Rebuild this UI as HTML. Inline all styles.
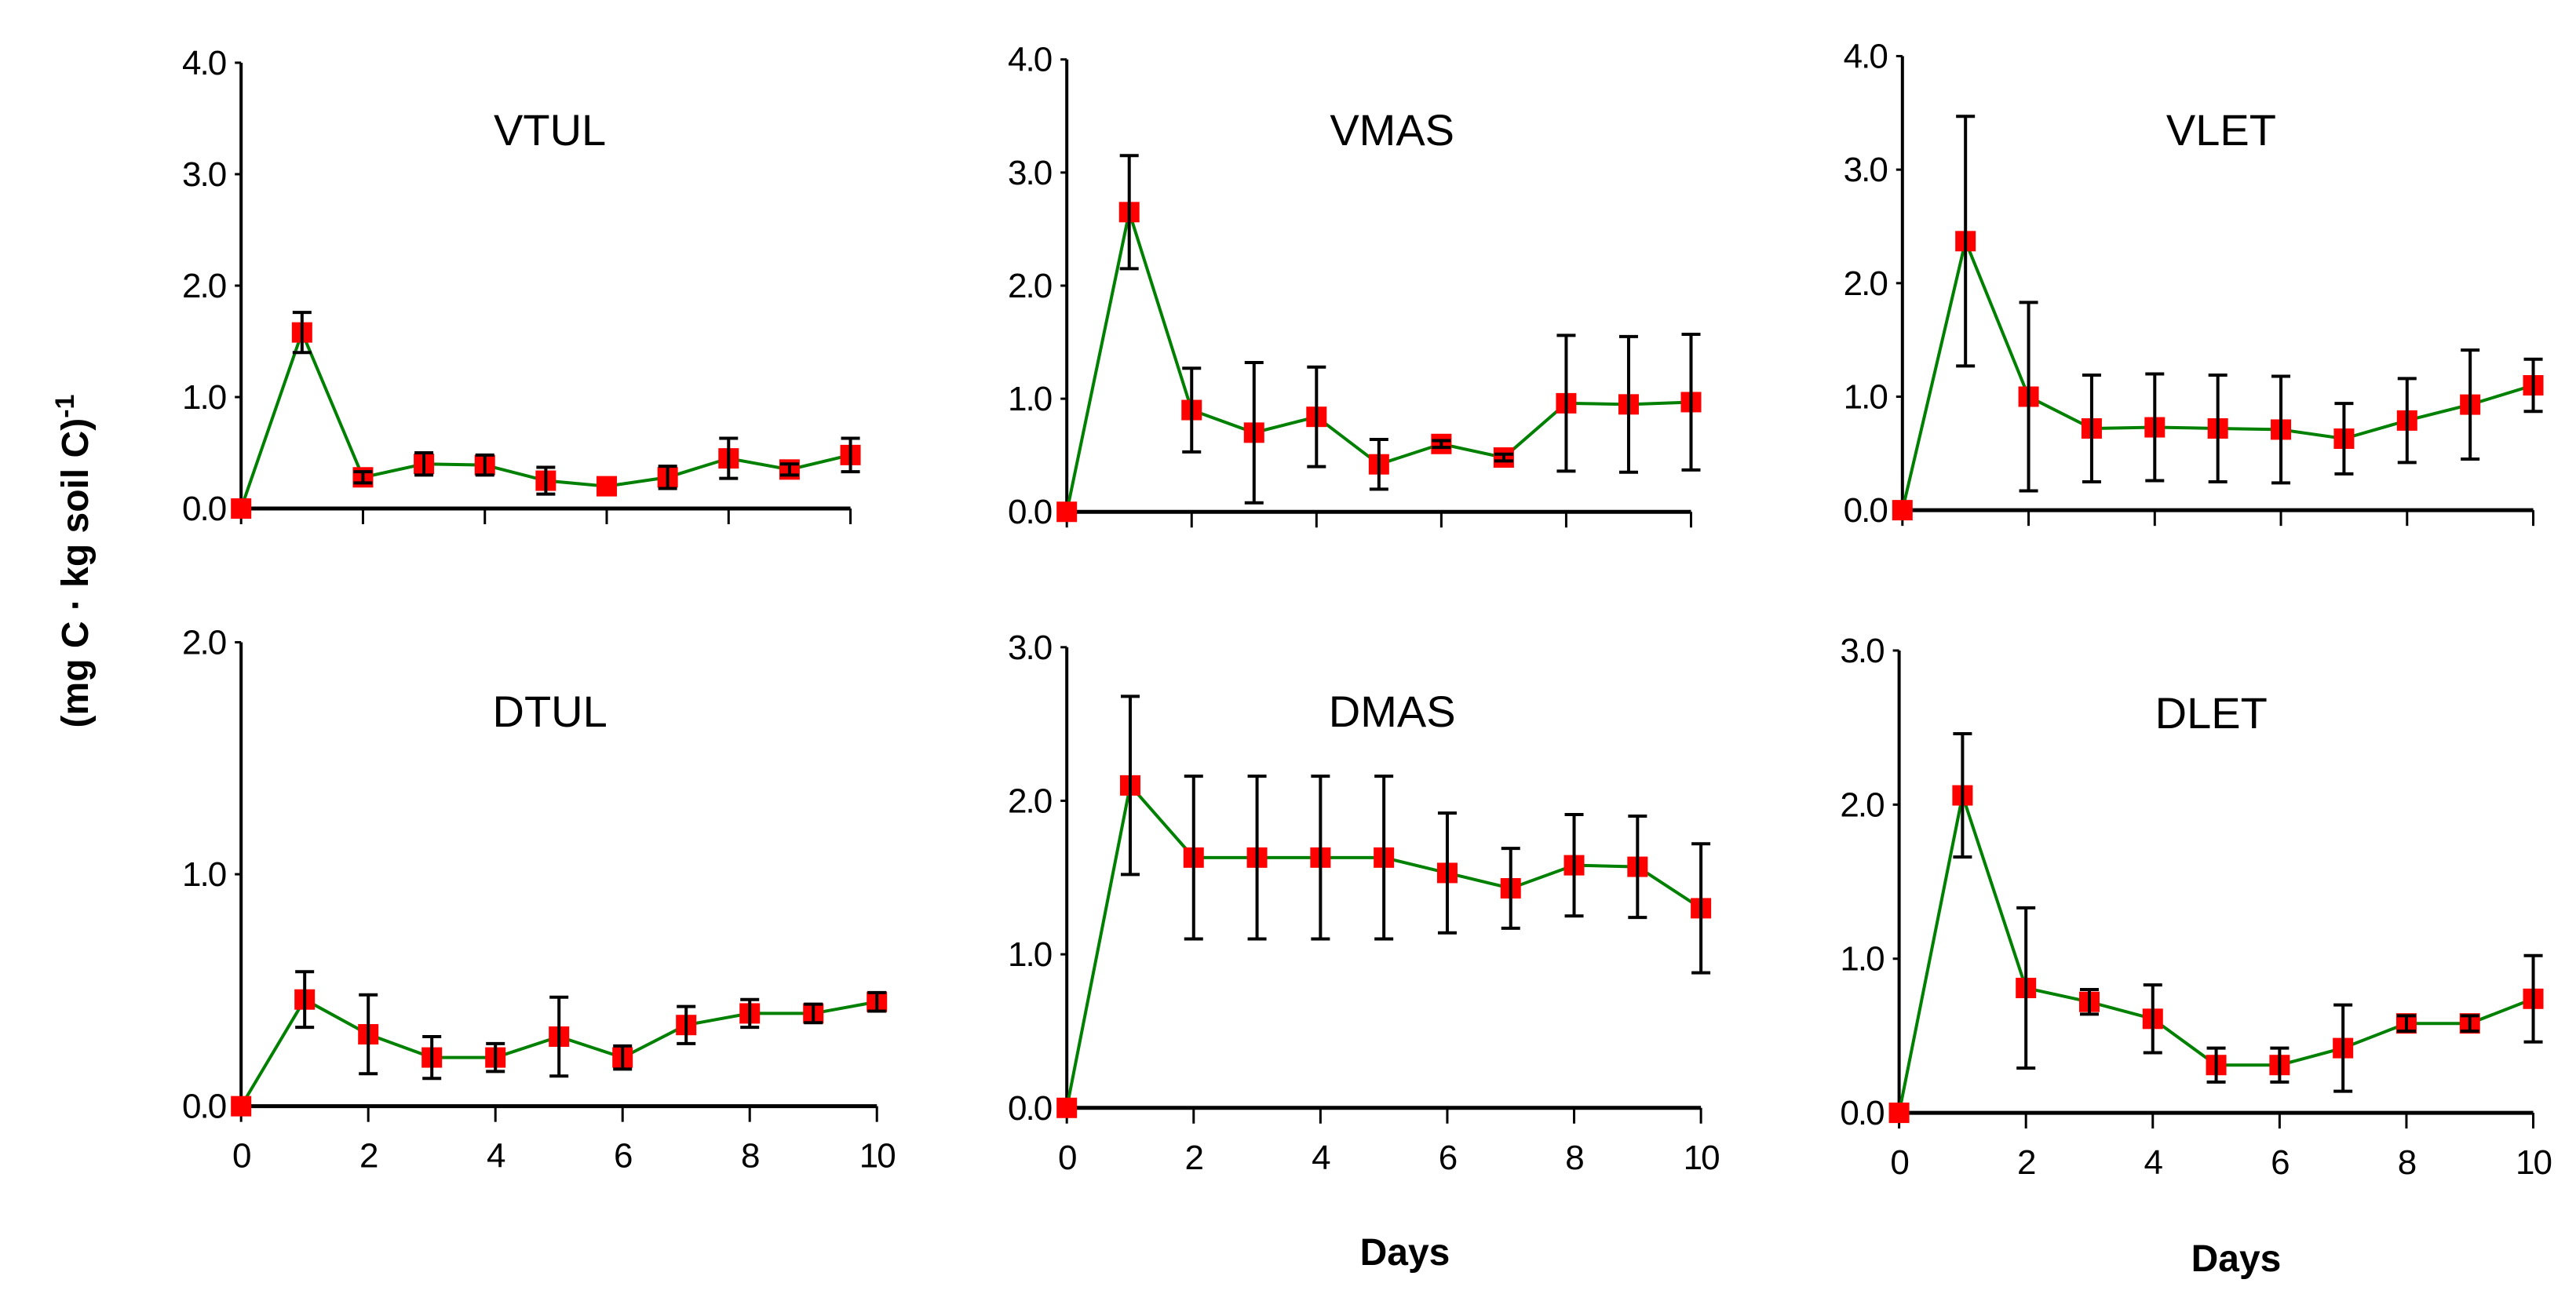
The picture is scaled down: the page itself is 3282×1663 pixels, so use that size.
<!DOCTYPE html>
<html><head><meta charset="utf-8"><style>
html,body{margin:0;padding:0;background:#fff;}
svg{display:block;font-family:"Liberation Sans",Arial,sans-serif;}
</style></head><body>
<svg id="chart" width="3282" height="1663" viewBox="0 0 3282 1663" xmlns="http://www.w3.org/2000/svg">
<text transform="translate(112,715) rotate(-90)" text-anchor="middle" font-size="48" font-weight="bold">(mg C · kg soil C)<tspan dy="-18" font-size="34">-1</tspan></text>
<text x="1790" y="1612" text-anchor="middle" font-size="48" font-weight="bold">Days</text>
<text x="2849" y="1620" text-anchor="middle" font-size="48" font-weight="bold">Days</text>
</svg>
<script>
const days = [0,1,2,3,4,5,6,7,8,9,10];
const vtulMean = [0,1.58,0.28,0.40,0.39,0.25,0.20,0.28,0.45,0.35,0.48];
const vtulErr  = [0,0.18,0.05,0.10,0.09,0.12,0,0.10,0.18,0.05,0.15];
const vmasMean = [0,2.65,0.90,0.70,0.84,0.42,0.60,0.48,0.96,0.95,0.97];
const vmasErr  = [0,0.50,0.37,0.62,0.44,0.22,0.03,0.03,0.60,0.60,0.60];
const vletMean = [0,2.37,1.00,0.72,0.73,0.72,0.71,0.63,0.79,0.93,1.10];
const vletErr  = [0,1.10,0.83,0.47,0.47,0.47,0.47,0.31,0.37,0.48,0.23];
const dtulMean = [0,0.46,0.31,0.21,0.21,0.30,0.21,0.35,0.40,0.40,0.45];
const dtulErr  = [0,0.12,0.17,0.09,0.06,0.17,0.05,0.08,0.06,0.04,0.04];
const dmasMean = [0,2.10,1.63,1.63,1.63,1.63,1.53,1.43,1.58,1.57,1.30];
const dmasErr  = [0,0.58,0.53,0.53,0.53,0.53,0.39,0.26,0.33,0.33,0.42];
const dletMean = [0,2.06,0.81,0.72,0.61,0.31,0.31,0.42,0.58,0.58,0.74];
const dletErr  = [0,0.40,0.52,0.08,0.22,0.11,0.11,0.28,0.05,0.05,0.28];
const xTickLabels = ["0","2","4","6","8","10"];
const yTicksTop = ["0.0","1.0","2.0","3.0","4.0"];
const yTicksDTUL = ["0.0","1.0","2.0"];
const yTicksD3 = ["0.0","1.0","2.0","3.0"];

const S=2.104;
const panels=[
 {name:'vtul',title:'VTUL',mean:vtulMean,err:vtulErr,ticks:yTicksTop,ymax:4,x0:146*S,x1:515*S,y0:308*S,y1:38*S,tx:333*S,ty:88*S,labels:false},
 {name:'vmas',title:'VMAS',mean:vmasMean,err:vmasErr,ticks:yTicksTop,ymax:4,x0:646*S,x1:1024*S,y0:310*S,y1:36*S,tx:843*S,ty:88*S,labels:false},
 {name:'vlet',title:'VLET',mean:vletMean,err:vletErr,ticks:yTicksTop,ymax:4,x0:1152*S,x1:1534*S,y0:309*S,y1:34*S,tx:1345*S,ty:88*S,labels:false},
 {name:'dtul',title:'DTUL',mean:dtulMean,err:dtulErr,ticks:yTicksDTUL,ymax:2,x0:146*S,x1:531*S,y0:670*S,y1:389*S,tx:333*S,ty:440*S,labels:true},
 {name:'dmas',title:'DMAS',mean:dmasMean,err:dmasErr,ticks:yTicksD3,ymax:3,x0:646*S,x1:1030*S,y0:671*S,y1:392*S,tx:843*S,ty:440*S,labels:true},
 {name:'dlet',title:'DLET',mean:dletMean,err:dletErr,ticks:yTicksD3,ymax:3,x0:1150*S,x1:1534*S,y0:674*S,y1:394*S,tx:1339*S,ty:441*S,labels:true}
];
const svg=document.getElementById('chart');
const NS='http://www.w3.org/2000/svg';
function mk(tag,attrs,parent){const e=document.createElementNS(NS,tag);for(const k in attrs)e.setAttribute(k,attrs[k]);parent.appendChild(e);return e;}
panels.forEach(p=>{
 const g=mk('g',{},svg);
 
 
 const xs=d=>p.x0+(p.x1-p.x0)*d/10;
 const ys=v=>p.y0-(p.y0-p.y1)*v/p.ymax;
 const ya=mk('line',{x1:p.x0,y1:p.y1,x2:p.x0,y2:p.y0,stroke:'#000','stroke-width':4},g);
 
 
 const xa=mk('line',{x1:p.x0,y1:p.y0,x2:p.x1,y2:p.y0,stroke:'#000','stroke-width':5},g);
 
 
 p.ticks.forEach((t,i)=>{
  const v=parseFloat(t);const y=ys(v);
  mk('line',{x1:p.x0-8,y1:y,x2:p.x0,y2:y,stroke:'#000','stroke-width':3},g);
  const tl=mk('text',{x:p.x0-20,y:y+15,'text-anchor':'end','font-size':44,'letter-spacing':-2},g);
  tl.textContent=t;
  
  
 });
 xTickLabels.forEach(t=>{
  const x=xs(parseFloat(t));
  mk('line',{x1:x,y1:p.y0,x2:x,y2:p.y0+20,stroke:'#000','stroke-width':3},g);
  if(p.labels){
   const tl=mk('text',{x:x,y:p.y0+78,'text-anchor':'middle','font-size':44,'letter-spacing':-2},g);
   tl.textContent=t;
   
   
  }
 });
 const title=mk('text',{x:p.tx,y:p.ty,'text-anchor':'middle','font-size':56},g);
 title.textContent=p.title;
 
 
 const pts=days.map((d,i)=>xs(d)+','+ys(p.mean[i])).join(' ');
 const line=mk('polyline',{points:pts,fill:'none',stroke:'#008000','stroke-width':4},g);
 
 
 days.forEach((d,i)=>{
  const x=xs(d),y=ys(p.mean[i]);
  const m=mk('rect',{x:x-13,y:y-13,width:26,height:26,fill:'#ff0000'},g);
  
  
  if(p.err[i]>0){
   const yt=ys(p.mean[i]+p.err[i]),yb=ys(p.mean[i]-p.err[i]);
   const eb=mk('path',{d:`M${x},${yt}V${yb}M${x-12},${yt}H${x+12}M${x-12},${yb}H${x+12}`,stroke:'#000','stroke-width':4,fill:'none'},g);
   
   
  }
 });
});
</script>
</body></html>
